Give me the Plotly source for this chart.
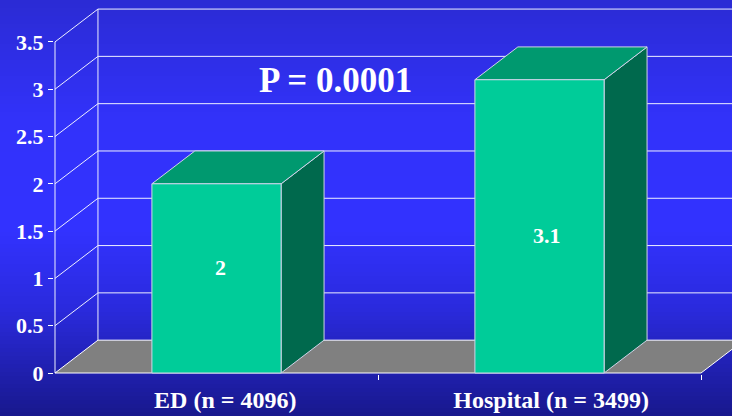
import plotly.graph_objects as go

# data
categories = ['ED (n = 4096)', 'Hospital (n = 3499)']
values = [2.0, 3.1]
value_labels = ['2', '3.1']
y_ticks = [0, 0.5, 1, 1.5, 2, 2.5, 3, 3.5]
y_tick_labels = ['0', '0.5', '1', '1.5', '2', '2.5', '3', '3.5']
p_text = 'P = 0.0001'

# pseudo 3D look (oblique depth offset in data units)
DX, DY = 0.133, 0.347
BAR_HALF = 0.2
X_LO, X_HI = -0.5, 1.5
X_MAX = 1.60
FONT = 'Liberation Serif'

fig = go.Figure()

def poly(xs, ys, fill, line='#d0d4e8', width=1):
    fig.add_trace(go.Scatter(x=xs + [xs[0]], y=ys + [ys[0]], mode='lines', fill='toself',
                             fillcolor=fill, line=dict(color=line, width=width),
                             hoverinfo='skip', showlegend=False))

# back wall gridlines + side wall diagonals
gx, gy = [], []
for v in y_ticks[1:]:
    gx += [X_LO, X_LO + DX, X_MAX + 0.1, None]
    gy += [v, v + DY, v + DY, None]
gx += [X_LO + DX, X_LO + DX, None, X_LO, X_LO, None]
gy += [DY, y_ticks[-1] + DY, None, 0, y_ticks[-1], None]
fig.add_trace(go.Scatter(x=gx, y=gy, mode='lines', line=dict(color='#eef0ff', width=1),
                         hoverinfo='skip', showlegend=False))

# floor
poly([X_LO, X_HI, X_HI + DX, X_LO + DX], [0, 0, DY, DY], '#808080', line='#ffffff')

# bars: side, top, front
for i, v in enumerate(values):
    x0, x1 = i - BAR_HALF, i + BAR_HALF
    poly([x1, x1 + DX, x1 + DX, x1], [0, DY, v + DY, v], '#00694D')
    poly([x0, x1, x1 + DX, x0 + DX], [v, v, v + DY, v + DY], '#00996F')
    poly([x0, x1, x1, x0], [0, 0, v, v], '#00CC99')

# value labels on the bar faces
label_pos = [(0.012, 1.12), (1.024, 1.45)]
for (lx, ly), txt in zip(label_pos, value_labels):
    fig.add_annotation(x=lx, y=ly, text=txt, showarrow=False,
                       font=dict(family=FONT, size=22, color='white', weight='bold'))

fig.add_annotation(x=0.367, y=3.09, text=p_text, showarrow=False,
                   font=dict(family=FONT, size=35, color='white', weight='bold'))

# blue vertical gradient background
stops = [(0, (43, 43, 212)), (120, (50, 50, 250)), (230, (50, 50, 255)),
         (310, (42, 42, 220)), (416, (24, 24, 140))]

def grad(p):
    for (p0, c0), (p1, c1) in zip(stops, stops[1:]):
        if p0 <= p <= p1:
            t = (p - p0) / (p1 - p0)
            return 'rgb(%d,%d,%d)' % tuple(round(a + (b - a) * t) for a, b in zip(c0, c1))
    return 'rgb(24,24,140)'

PLOT_H = 374
shapes = []
for p in range(0, 416, 4):
    shapes.append(dict(type='rect', xref='paper', yref='paper', layer='below',
                       x0=-0.2, x1=1.1, y0=(PLOT_H - p - 4) / PLOT_H, y1=(PLOT_H - p) / PLOT_H,
                       fillcolor=grad(p + 2), line=dict(width=0)))

fig.update_layout(
    width=732, height=416,
    margin=dict(l=54, r=0, t=0, b=42),
    paper_bgcolor='rgb(40,40,200)', plot_bgcolor='rgba(0,0,0,0)',
    shapes=shapes,
    xaxis=dict(range=[X_LO - 1 / 323, X_LO + 677 / 323], showgrid=False, zeroline=False,
               showline=False, tickvals=[0.027, 1.036], ticktext=categories, ticks='',
               ticklabelstandoff=9, automargin=False,
               tickfont=dict(family=FONT, size=24, color='white', weight='bold'),
               minor=dict(tickmode='array', tickvals=[0.5, 1.5], ticks='outside',
                          ticklen=5, tickcolor='white', showgrid=False)),
    yaxis=dict(range=[-1 / 94.6, 373 / 94.6], showgrid=False, zeroline=False, showline=False,
               tickvals=y_ticks, ticktext=y_tick_labels, ticks='outside', ticklen=5,
               tickcolor='white', automargin=False,
               tickfont=dict(family=FONT, size=22, color='white', weight='bold')),
)

# page body has an 8px default margin; drop it so the figure fills the window
fig.write_html('out.html', config={'displayModeBar': False},
               post_script="document.body.style.margin='0';")
